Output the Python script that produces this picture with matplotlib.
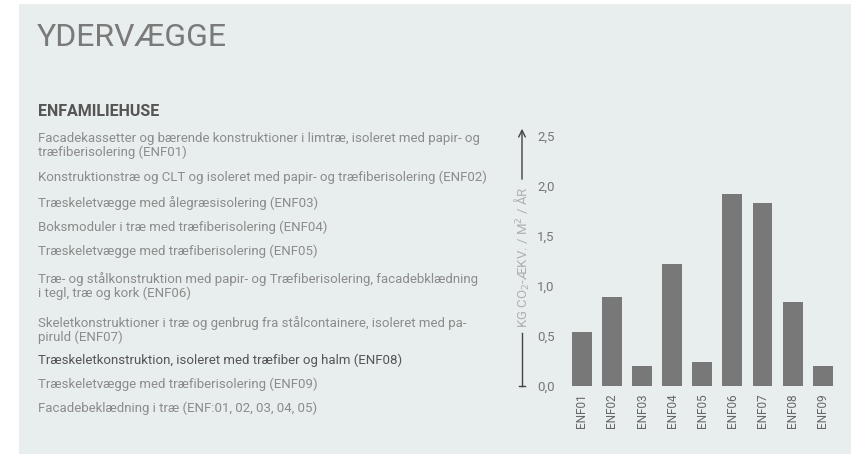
import matplotlib
matplotlib.use('Agg')
import matplotlib.pyplot as plt
from matplotlib.patches import Rectangle

plt.rcParams['font.family'] = ['Roboto', 'DejaVu Sans']

title = 'YDERVÆGGE'
subtitle = 'ENFAMILIEHUSE'
descriptions = [
    'Facadekassetter og bærende konstruktioner i limtræ, isoleret med papir- og\ntræfiberisolering (ENF01)',
    'Konstruktionstræ og CLT og isoleret med papir- og træfiberisolering (ENF02)',
    'Træskeletvægge med ålegræsisolering (ENF03)',
    'Boksmoduler i træ med træfiberisolering (ENF04)',
    'Træskeletvægge med træfiberisolering (ENF05)',
    'Træ- og stålkonstruktion med papir- og Træfiberisolering, facadebklædning\ni tegl, træ og kork (ENF06)',
    'Skeletkonstruktioner i træ og genbrug fra stålcontainere, isoleret med pa-\npiruld (ENF07)',
    'Træskeletkonstruktion, isoleret med træfiber og halm (ENF08)',
    'Træskeletvægge med træfiberisolering (ENF09)',
    'Facadebeklædning i træ (ENF:01, 02, 03, 04, 05)',
]
# y position (pixels from top) of the first line of each description
desc_y = [137, 176, 201, 226, 250, 277, 321, 359, 383, 407]
highlight = 7

categories = ['ENF01', 'ENF02', 'ENF03', 'ENF04', 'ENF05', 'ENF06', 'ENF07', 'ENF08', 'ENF09']
values = [0.54, 0.89, 0.20, 1.22, 0.24, 1.92, 1.83, 0.84, 0.20]
yticks = [0.0, 0.5, 1.0, 1.5, 2.0, 2.5]
ylabel = 'KG CO$_2$-ÆKV. / M$^2$ / ÅR'

W, H = 851, 454
bg = '#e8eded'
fig = plt.figure(figsize=(W / 100, H / 100), dpi=100)
fig.patch.set_facecolor('white')
fig.patches.append(Rectangle((19 / W, 0), 1 - 19 / W, 1 - 4 / H, transform=fig.transFigure,
                             facecolor=bg, edgecolor='none', zorder=-10))

fig.text(37 / W, 1 - 37 / H, title, fontsize=23, color='#7a7a7a', va='center', ha='left')
fig.text(38 / W, 1 - 111 / H, subtitle, fontsize=11.5, color='#555555', fontweight='bold',
         va='center', ha='left')
for i, (d, y) in enumerate(zip(descriptions, desc_y)):
    col = '#555555' if i == highlight else '#8c8c8c'
    fig.text(38 / W, 1 - (y - 5) / H, d, fontsize=9.5, color=col, va='top', ha='left', linespacing=1.1)

# chart axes: value 0 at y=386px, 2.6 at y=126px; bars centred at 581.7 + 30.1*i
left = 566.7
right = 837.8
ax = fig.add_axes([left / W, 1 - 386 / H, (right - left) / W, 260 / H])
ax.set_facecolor('none')
ax.bar(range(len(categories)), values, width=0.66, color='#787878')
ax.set_xlim(-0.5, len(categories) - 0.5)
ax.set_ylim(0, 2.6)
ax.set_yticks(yticks)
ax.set_yticklabels([f'{t:.1f}'.replace('.', ',') for t in yticks], fontsize=9.5, color='#777777', ha='left')
ax.tick_params(axis='y', length=0, pad=21.4)
ax.set_xticks(range(len(categories)))
ax.set_xticklabels(categories, rotation=90, fontsize=8.5, color='#666666')
ax.tick_params(axis='x', length=0, pad=5)
for s in ax.spines.values():
    s.set_visible(False)

trans = ax.get_yaxis_transform()
ax_x = (522 - left) / (right - left)
ax.annotate('', xy=(ax_x, 2.6), xytext=(ax_x, 2.04), xycoords=trans, textcoords=trans,
            arrowprops=dict(arrowstyle='->', color='#444444', lw=1, mutation_scale=12), annotation_clip=False)
ax.plot([ax_x, ax_x], [0, 0.53], transform=trans, color='#444444', lw=1, clip_on=False)
ax.plot([ax_x - 0.012, ax_x + 0.012], [0, 0], transform=trans, color='#444444', lw=1, clip_on=False)
ax.text(ax_x, 1.29, ylabel, transform=trans, rotation=90, ha='center', va='center',
        fontsize=9.5, color='#b0b0b0')

fig.savefig('out.png', dpi=100, facecolor=fig.get_facecolor())
